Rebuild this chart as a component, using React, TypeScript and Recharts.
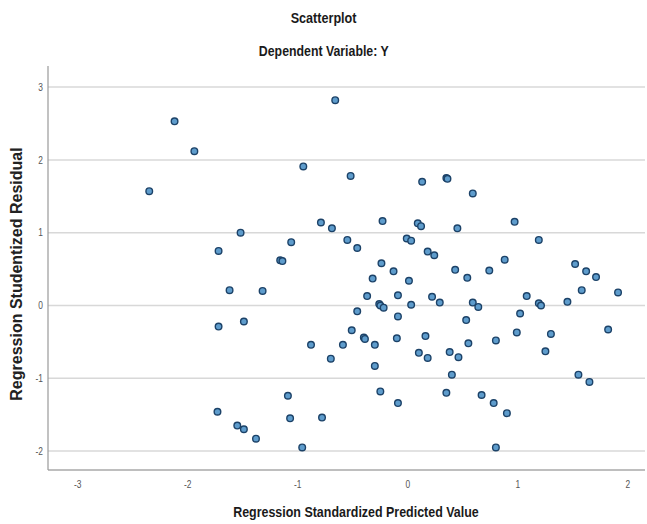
import React from "react";
import {
  ScatterChart,
  Scatter,
  XAxis,
  YAxis,
  ReferenceLine,
} from "recharts";

// Regression Standardized Predicted Value (x) and Studentized Residual (y)
const predicted = [
  -0.66, -2.12, -1.94, -0.95, -0.52, -2.35, -0.79, -0.69, -1.52, -1.06,
  -0.55, -0.46, -1.72, -1.16, -1.14, -1.62, -1.32, -0.46, -1.72, -1.49,
  -0.51, -0.88, -0.59, -0.7, -1.09, -1.73, -1.07, -0.78, -1.55, -1.49,
  -1.38, -0.96, 0.13, 0.35, 0.36, 0.59, -0.23, 0.09, 0.12, 0.45,
  0.97, 1.19, -0.01, 0.03, 0.18, 0.24, -0.24, -0.13, 0.88, 0.43,
  0.74, 1.52, 1.62, 1.71, -0.32, 0.01, 0.54, 1.58, 1.91, 1.45,
  -0.37, -0.09, 0.22, 0.29, 0.03, -0.26, -0.25, -0.22, 0.59, 0.64,
  1.08, 1.19, 1.21, 1.02, 0.53, -0.09, -0.4, -0.39, -0.3, -0.1,
  0.16, 0.55, 0.8, 0.99, 1.3, 1.82, 1.25, 0.1, 0.18, 0.38,
  0.46, -0.3, 0.4, 1.55, 1.65, -0.25, -0.09, 0.35, 0.67, 0.78,
  0.9, 0.8,
];

const residual = [
  2.82, 2.53, 2.12, 1.91, 1.78, 1.57, 1.14, 1.06, 1.0, 0.87,
  0.9, 0.79, 0.75, 0.62, 0.61, 0.21, 0.2, -0.08, -0.29, -0.22,
  -0.34, -0.54, -0.54, -0.73, -1.24, -1.46, -1.55, -1.54, -1.65, -1.7,
  -1.83, -1.95, 1.7, 1.75, 1.74, 1.54, 1.16, 1.13, 1.09, 1.06,
  1.15, 0.9, 0.92, 0.89, 0.74, 0.69, 0.58, 0.47, 0.63, 0.49,
  0.48, 0.57, 0.47, 0.39, 0.37, 0.34, 0.38, 0.21, 0.18, 0.05,
  0.13, 0.14, 0.12, 0.04, 0.01, 0.02, 0.0, -0.03, 0.04, -0.02,
  0.13, 0.03, 0.0, -0.11, -0.2, -0.15, -0.44, -0.46, -0.54, -0.45,
  -0.42, -0.52, -0.48, -0.37, -0.39, -0.33, -0.63, -0.65, -0.72, -0.64,
  -0.71, -0.83, -0.95, -0.95, -1.05, -1.18, -1.34, -1.2, -1.23, -1.34,
  -1.48, -1.95,
];

const xTicks = [-3, -2, -1, 0, 1, 2];
const yTicks = [-2, -1, 0, 1, 2, 3];

const points = predicted.map((x, i) => ({ x, y: residual[i] }));

const sans = "'Liberation Sans', Arial, sans-serif";

const Dot = (props: any) => (
  <circle
    cx={props.cx}
    cy={props.cy}
    r={3.3}
    fill="#5e9ccc"
    stroke="#1c4268"
    strokeWidth={1.4}
  />
);

// narrow-looking tick label (SPSS uses a condensed face)
const NarrowTick = (props: any) => {
  const { x, y, payload, textAnchor } = props;
  return (
    <g transform={`translate(${x},${y})`}>
      <text
        transform="scale(0.8,1)"
        textAnchor={textAnchor}
        dy={props.dy ?? "0.355em"}
        fill="#555"
        fontSize={10.5}
        fontFamily={sans}
      >
        {payload.value}
      </text>
    </g>
  );
};

const titleStyle: React.CSSProperties = {
  position: "absolute",
  left: 0,
  width: 647,
  textAlign: "center",
  fontFamily: sans,
  fontWeight: "bold",
  color: "#1a1a1a",
};

export default function App() {
  return (
    <div
      style={{
        position: "absolute",
        left: 0,
        top: 0,
        width: 647,
        height: 524,
        background: "#fff",
      }}
    >
      <ScatterChart
        width={647}
        height={524}
        margin={{ top: 66, right: 2, bottom: 24, left: 0 }}
      >
        <XAxis
          type="number"
          dataKey="x"
          domain={[-3.27, 2.155]}
          ticks={xTicks}
          allowDataOverflow
          height={30}
          tickLine={false}
          tickSize={0}
          tickMargin={14}
          axisLine={{ stroke: "#a8a8a8", strokeWidth: 1.5 }}
          tick={<NarrowTick />}
        />
        <YAxis
          type="number"
          dataKey="y"
          domain={[-2.26, 3.29]}
          ticks={yTicks}
          allowDataOverflow
          width={48}
          tickLine={false}
          tickSize={0}
          tickMargin={5}
          axisLine={{ stroke: "#999", strokeWidth: 1.2 }}
          tick={<NarrowTick />}
        />
        {yTicks.map((t) => (
          <ReferenceLine key={t} y={t} stroke="#d8d8d8" strokeWidth={1.5} />
        ))}
        <Scatter data={points} shape={<Dot />} isAnimationActive={false} />
      </ScatterChart>

      <div style={{ ...titleStyle, top: 10, fontSize: 14 }}>
        <span style={{ display: "inline-block", transform: "scaleX(0.9)" }}>
          Scatterplot
        </span>
      </div>
      <div style={{ ...titleStyle, top: 43, fontSize: 14 }}>
        <span style={{ display: "inline-block", transform: "scaleX(0.88)" }}>
          Dependent Variable: Y
        </span>
      </div>
      <div style={{ ...titleStyle, top: 503, left: 56, width: 600, fontSize: 15 }}>
        <span style={{ display: "inline-block", transform: "scaleX(0.83)" }}>
          Regression Standardized Predicted Value
        </span>
      </div>
      <div
        style={{
          position: "absolute",
          left: 17 - 150,
          top: 274 - 10,
          width: 300,
          height: 20,
          lineHeight: "20px",
          textAlign: "center",
          transform: "rotate(-90deg)",
          fontFamily: sans,
          fontWeight: "bold",
          fontSize: 16,
          color: "#222",
        }}
      >
        Regression Studentized Residual
      </div>
    </div>
  );
}
